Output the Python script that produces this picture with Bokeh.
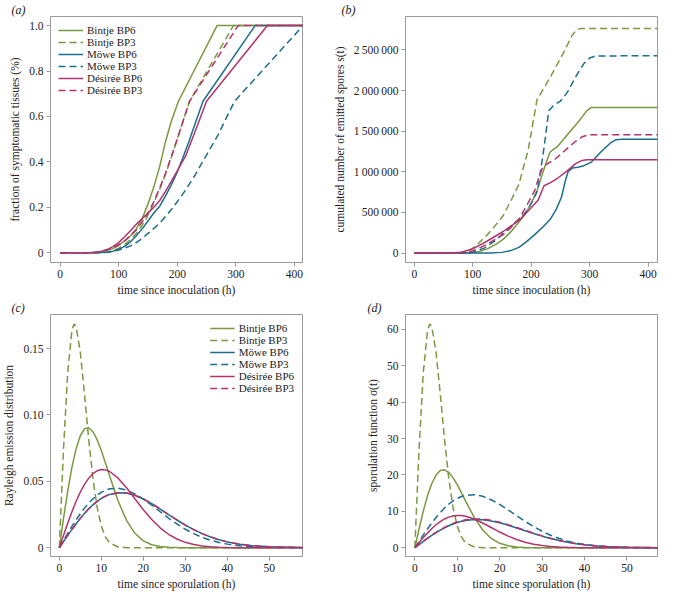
from bokeh.plotting import figure
from bokeh.layouts import gridplot
from bokeh.models import Legend, LegendItem, FixedTicker, Range1d
from bokeh.embed import file_html
from bokeh.resources import INLINE

# ---------------- data ----------------
names = ["Bintje BP6", "Bintje BP3", "Möwe BP6", "Möwe BP3", "Désirée BP6", "Désirée BP3"]
panel_tags = ["(a)", "(b)", "(c)", "(d)"]

# (a) fraction of symptomatic tissues vs time since inoculation (h)
a_t_bintje6 = [0, 50, 70, 90, 100, 110, 120, 130, 140, 150, 160, 170, 180, 190, 202, 268, 420]
a_v_bintje6 = [0, 0, 0.004, 0.018, 0.033, 0.052, 0.075, 0.105, 0.15, 0.215, 0.29, 0.38, 0.49, 0.58, 0.667, 1, 1]
a_t_bintje3 = [0, 60, 70, 80, 90, 100, 110, 120, 130, 140, 150, 160, 170, 180, 190, 200, 210, 221, 296, 420]
a_v_bintje3 = [0, 0, 0.001, 0.003, 0.009, 0.02, 0.036, 0.058, 0.085, 0.12, 0.165, 0.22, 0.28, 0.345, 0.42, 0.50, 0.58, 0.667, 1, 1]
a_t_mowe6 = [0, 60, 80, 90, 100, 110, 120, 130, 140, 150, 160, 170, 180, 190, 200, 211, 220, 230, 244, 333, 420]
a_v_mowe6 = [0, 0, 0.002, 0.007, 0.015, 0.028, 0.048, 0.075, 0.105, 0.14, 0.175, 0.205, 0.25, 0.3, 0.355, 0.428, 0.49, 0.565, 0.667, 1, 1]
a_t_mowe3 = [0, 60, 80, 90, 100, 110, 120, 130, 140, 150, 170, 190, 210, 230, 250, 270, 285, 298, 415, 420]
a_v_mowe3 = [0, 0, 0.002, 0.006, 0.012, 0.02, 0.03, 0.045, 0.063, 0.085, 0.13, 0.19, 0.26, 0.34, 0.43, 0.52, 0.6, 0.667, 1, 1]
a_t_desiree6 = [0, 50, 60, 70, 80, 90, 100, 110, 120, 130, 140, 150, 160, 170, 180, 190, 200, 215, 230, 250, 354, 420]
a_v_desiree6 = [0, 0, 0.002, 0.006, 0.014, 0.027, 0.045, 0.07, 0.097, 0.125, 0.15, 0.175, 0.2, 0.23, 0.27, 0.315, 0.36, 0.43, 0.53, 0.667, 1, 1]
a_t_desiree3 = [0, 50, 60, 70, 80, 90, 100, 110, 120, 130, 140, 150, 160, 170, 180, 190, 200, 210, 221, 304, 420]
a_v_desiree3 = [0, 0, 0.002, 0.006, 0.012, 0.022, 0.035, 0.052, 0.075, 0.1, 0.135, 0.175, 0.225, 0.285, 0.35, 0.425, 0.5, 0.58, 0.667, 1, 1]

# (b) cumulated number of emitted spores
b_t_bintje6 = [0, 90, 100, 110, 125, 140, 152, 165, 179, 190, 200, 210, 217, 225, 232, 238, 245, 260, 280, 295, 302, 420]
b_s_bintje6 = [0, 0, 5e3, 15e3, 51e3, 110e3, 168e3, 260e3, 381e3, 480e3, 610e3, 770e3, 925e3, 1100e3, 1240e3, 1275e3, 1310e3, 1440e3, 1610e3, 1750e3, 1790e3, 1790e3]
b_t_bintje3 = [0, 80, 90, 100, 110, 125, 140, 152, 165, 179, 195, 210, 233, 255, 270, 278, 285, 420]
b_s_bintje3 = [0, 0, 20e3, 60e3, 120e3, 226e3, 350e3, 459e3, 640e3, 847e3, 1275e3, 1888e3, 2170e3, 2460e3, 2680e3, 2750e3, 2762e3, 2762e3]
b_t_mowe6 = [0, 130, 150, 165, 179, 192, 206, 220, 233, 243, 252, 258, 263, 270, 280, 290, 303, 320, 335, 345, 355, 420]
b_s_mowe6 = [0, 0, 8e3, 30e3, 70e3, 140e3, 226e3, 320e3, 420e3, 540e3, 692e3, 880e3, 1000e3, 1045e3, 1055e3, 1075e3, 1119e3, 1250e3, 1352e3, 1395e3, 1400e3, 1400e3]
b_t_mowe3 = [0, 90, 100, 120, 140, 160, 180, 195, 211, 222, 230, 238, 250, 262, 276, 290, 300, 310, 420]
b_s_mowe3 = [0, 0, 10e3, 60e3, 160e3, 300e3, 420e3, 540e3, 770e3, 1300e3, 1750e3, 1815e3, 1870e3, 1980e3, 2168e3, 2330e3, 2400e3, 2425e3, 2429e3]
b_t_desiree6 = [0, 60, 80, 100, 125, 152, 179, 200, 212, 218, 222, 233, 245, 260, 276, 287, 295, 420]
b_s_desiree6 = [0, 0, 10e3, 50e3, 148e3, 265e3, 401e3, 556e3, 653e3, 760e3, 828e3, 867e3, 920e3, 1002e3, 1100e3, 1140e3, 1147e3, 1147e3]
b_t_desiree3 = [0, 70, 90, 100, 114, 130, 152, 165, 179, 192, 206, 214, 220, 228, 240, 260, 275, 287, 297, 305, 420]
b_s_desiree3 = [0, 0, 10e3, 25e3, 70e3, 130e3, 226e3, 310e3, 420e3, 580e3, 769e3, 950e3, 1060e3, 1100e3, 1150e3, 1275e3, 1370e3, 1430e3, 1452e3, 1457e3, 1457e3]

# (c), (d) time since sporulation (h)
t_fine = [0, 1, 2, 3, 3.5, 4, 5, 6, 7, 8, 9, 10, 11, 12, 14, 16, 20, 58]
t_grid = [0, 1, 2, 3, 4, 5, 6, 7, 8, 9, 10, 11, 12, 14, 16, 18, 20, 22, 24, 26, 28, 30, 32, 34, 36, 38, 40, 43, 46, 50, 58]

c_bintje3 = [0, 0.0742, 0.1323, 0.1636, 0.1684, 0.1665, 0.1471, 0.1155, 0.0816, 0.0523, 0.0305, 0.0163, 0.00797, 0.00358, 0.00056, 0.00006, 0, 0]
c_bintje6 = [0, 0.02203, 0.04261, 0.06046, 0.07456, 0.08432, 0.08951, 0.09035, 0.08737, 0.08134, 0.07314, 0.06368, 0.05377, 0.03514, 0.02059, 0.01086, 0.00518, 0.00224, 0.00087, 0.00031, 0.0001, 0.00003, 0, 0, 0, 0, 0, 0, 0, 0, 0]
c_desiree6 = [0, 0.00938, 0.0185, 0.0271, 0.03497, 0.04189, 0.04773, 0.05238, 0.05577, 0.05791, 0.05884, 0.05862, 0.05738, 0.0524, 0.04513, 0.03685, 0.02862, 0.02119, 0.01498, 0.01013, 0.00656, 0.00407, 0.00242, 0.00138, 0.00075, 0.0004, 0.0002, 0.00007, 0.00002, 0, 0]
c_mowe3 = [0, 0.00547, 0.01085, 0.01606, 0.02101, 0.02562, 0.02983, 0.03358, 0.03683, 0.03954, 0.04171, 0.04331, 0.04436, 0.04487, 0.04349, 0.0406, 0.03662, 0.032, 0.02712, 0.02233, 0.01788, 0.01394, 0.01058, 0.00782, 0.00564, 0.00397, 0.00272, 0.00148, 0.00076, 0.00029, 0.00004]
c_mowe6 = [0, 0.00468, 0.0093, 0.01378, 0.01807, 0.02212, 0.02587, 0.02927, 0.0323, 0.03492, 0.0371, 0.03885, 0.04016, 0.04147, 0.04118, 0.03949, 0.03671, 0.03316, 0.02916, 0.02498, 0.02089, 0.01705, 0.01359, 0.0106, 0.00808, 0.00603, 0.0044, 0.00264, 0.00151, 0.00067, 0.00013]
c_desiree3 = [0, 0.00468, 0.0093, 0.01378, 0.01807, 0.02212, 0.02587, 0.02927, 0.0323, 0.03492, 0.0371, 0.03885, 0.04016, 0.04147, 0.04118, 0.03949, 0.03671, 0.03316, 0.02916, 0.02498, 0.02089, 0.01705, 0.01359, 0.0106, 0.00808, 0.00603, 0.0044, 0.00264, 0.00151, 0.00067, 0.00013]

d_bintje3 = [0, 27.1, 48.3, 59.7, 61.5, 60.8, 53.7, 42.2, 29.8, 19.1, 11.1, 5.95, 2.91, 1.31, 0.2, 0.02, 0, 0]
d_bintje6 = [0, 5.22, 10.1, 14.33, 17.67, 19.98, 21.21, 21.41, 20.71, 19.28, 17.33, 15.09, 12.74, 8.33, 4.88, 2.57, 1.23, 0.53, 0.21, 0.07, 0.02, 0.01, 0, 0, 0, 0, 0, 0, 0, 0, 0]
d_desiree6 = [0, 1.42, 2.79, 4.09, 5.28, 6.33, 7.21, 7.91, 8.42, 8.74, 8.88, 8.85, 8.66, 7.91, 6.81, 5.56, 4.32, 3.2, 2.26, 1.53, 0.99, 0.61, 0.37, 0.21, 0.11, 0.06, 0.03, 0.01, 0, 0, 0]
d_mowe3 = [0, 1.78, 3.53, 5.22, 6.83, 8.33, 9.69, 10.91, 11.97, 12.85, 13.56, 14.08, 14.42, 14.58, 14.13, 13.2, 11.9, 10.4, 8.81, 7.26, 5.81, 4.53, 3.44, 2.54, 1.83, 1.29, 0.88, 0.48, 0.25, 0.09, 0.01]
d_mowe6 = [0, 0.88, 1.74, 2.58, 3.38, 4.14, 4.84, 5.47, 6.04, 6.53, 6.94, 7.26, 7.51, 7.75, 7.7, 7.38, 6.86, 6.2, 5.45, 4.67, 3.91, 3.19, 2.54, 1.98, 1.51, 1.13, 0.82, 0.49, 0.28, 0.13, 0.02]
d_desiree3 = [0, 0.89, 1.78, 2.63, 3.45, 4.22, 4.94, 5.59, 6.17, 6.67, 7.09, 7.42, 7.67, 7.92, 7.86, 7.54, 7.01, 6.33, 5.57, 4.77, 3.99, 3.26, 2.6, 2.02, 1.54, 1.15, 0.84, 0.5, 0.29, 0.13, 0.02]

a_yticks = [0, 0.2, 0.4, 0.6, 0.8, 1.0]
a_ylabels = ["0", "0.2", "0.4", "0.6", "0.8", "1.0"]
b_yticks = [0, 500000, 1000000, 1500000, 2000000, 2500000]
b_ylabels = ["0", "500\u2009000", "1\u2009000\u2009000", "1\u2009500\u2009000", "2\u2009000\u2009000", "2\u2009500\u2009000"]
inoc_xticks = [0, 100, 200, 300, 400]
c_yticks = [0, 0.05, 0.10, 0.15]
c_ylabels = ["0", "0.05", "0.10", "0.15"]
d_yticks = [0, 10, 20, 30, 40, 50, 60]
spor_xticks = [0, 10, 20, 30, 40, 50]

# ---------------- style ----------------
GREEN = "#7a9940"
TEAL = "#1d6e8c"
MAGENTA = "#b3346c"
colors = [GREEN, GREEN, TEAL, TEAL, MAGENTA, MAGENTA]
dashes = ["solid", "7 4", "solid", "7 4", "solid", "7 4"]
FONT = "Liberation Serif"
GREY = "#9a9a9a"
FRAME_W = 262
FRAME_H = 247


def make_fig(xr, yr, mbl, mbr, mbt, mbb, xticks, yticks, ylabels, xlabel, ylabel, tag, tag_offset):
    w = mbl + FRAME_W + mbr
    h = mbt + FRAME_H + mbb
    p = figure(width=w, height=h, x_range=Range1d(*xr), y_range=Range1d(*yr),
               output_backend="svg", toolbar_location=None,
               min_border_left=mbl, min_border_right=mbr,
               min_border_top=mbt, min_border_bottom=mbb)
    p.title.text = tag
    p.title.align = "left"
    p.title.offset = tag_offset
    p.title.standoff = 0
    p.title.text_font = FONT
    p.title.text_font_style = "italic"
    p.title.text_font_size = "12px"
    p.title.text_color = "#222222"
    p.grid.visible = False
    p.outline_line_color = GREY
    p.outline_line_width = 1
    for ax in (p.xaxis[0], p.yaxis[0]):
        ax.axis_line_color = GREY
        ax.major_tick_line_color = GREY
        ax.major_tick_out = 4
        ax.major_tick_in = 0
        ax.minor_tick_line_color = None
        ax.major_label_text_font = FONT
        ax.major_label_text_font_size = "11.5px"
        ax.major_label_text_color = "#222222"
        ax.axis_label_text_font = FONT
        ax.axis_label_text_font_size = "11.5px"
        ax.axis_label_text_font_style = "normal"
        ax.axis_label_text_color = "#222222"
    p.xaxis.ticker = FixedTicker(ticks=xticks)
    p.yaxis.ticker = FixedTicker(ticks=yticks)
    if ylabels is not None:
        p.yaxis.major_label_overrides = {t: l for t, l in zip(yticks, ylabels)}
    p.xaxis.axis_label = xlabel
    p.yaxis.axis_label = ylabel
    p.xaxis.major_label_standoff = 3
    p.yaxis.major_label_standoff = 3
    p.xaxis.axis_label_standoff = 3
    p.yaxis.axis_label_standoff = 5
    return p


def add_lines(p, xs_list, ys_list):
    rs = []
    for xs, ys, c, d in zip(xs_list, ys_list, colors, dashes):
        rs.append(p.line(xs, ys, line_color=c, line_width=1.5, line_dash=d))
    return rs


def add_legend(p, rs, loc, margin, padding):
    items = [LegendItem(label=n, renderers=[r]) for n, r in zip(names, rs)]
    lg = Legend(items=items, location=loc, border_line_alpha=0,
                background_fill_alpha=0, label_text_font=FONT,
                label_text_font_size="11px", label_text_color="#222222",
                glyph_width=25, glyph_height=10, label_height=10,
                spacing=0, padding=padding, margin=margin, label_standoff=4)
    p.add_layout(lg)


pa = make_fig((-16.6, 414), (-0.043, 1.04), 40, 28, 15, 36, inoc_xticks, a_yticks, a_ylabels,
              "time since inoculation (h)", "fraction of symptomatic tissues (%)", panel_tags[0], -39)
ra = add_lines(pa, [a_t_bintje6, a_t_bintje3, a_t_mowe6, a_t_mowe3, a_t_desiree6, a_t_desiree3],
               [a_v_bintje6, a_v_bintje3, a_v_mowe6, a_v_mowe3, a_v_desiree6, a_v_desiree3])
add_legend(pa, ra, "top_left", 5, 3)

pb = make_fig((-15, 416), (-116600, 2911000), 65, 2, 15, 36, inoc_xticks, b_yticks, b_ylabels,
              "time since inoculation (h)", "cumulated number of emitted spores s(t)", panel_tags[1], -64)
add_lines(pb, [b_t_bintje6, b_t_bintje3, b_t_mowe6, b_t_mowe3, b_t_desiree6, b_t_desiree3],
          [b_s_bintje6, b_s_bintje3, b_s_mowe6, b_s_mowe3, b_s_desiree6, b_s_desiree3])

pc = make_fig((-2.1, 57.9), (-0.0066, 0.1756), 40, 28, 15, 32, spor_xticks, c_yticks, c_ylabels,
              "time since sporulation (h)", "Rayleigh emission distribution", panel_tags[2], -39)
rc = add_lines(pc, [t_grid, t_fine, t_grid, t_grid, t_grid, t_grid],
               [c_bintje6, c_bintje3, c_mowe6, c_mowe3, c_desiree6, c_desiree3])
add_legend(pc, rc, "top_right", 6, 2)

pd_ = make_fig((-2.2, 57.2), (-2.4, 64.1), 65, 2, 15, 32, spor_xticks, d_yticks, None,
               "time since sporulation (h)", "sporulation function \u03c3(t)", panel_tags[3], -38)
add_lines(pd_, [t_grid, t_fine, t_grid, t_grid, t_grid, t_grid],
          [d_bintje6, d_bintje3, d_mowe6, d_mowe3, d_desiree6, d_desiree3])

grid = gridplot([[pa, pb], [pc, pd_]], toolbar_location=None)

open("out.html", "w").write(file_html(grid, INLINE))
